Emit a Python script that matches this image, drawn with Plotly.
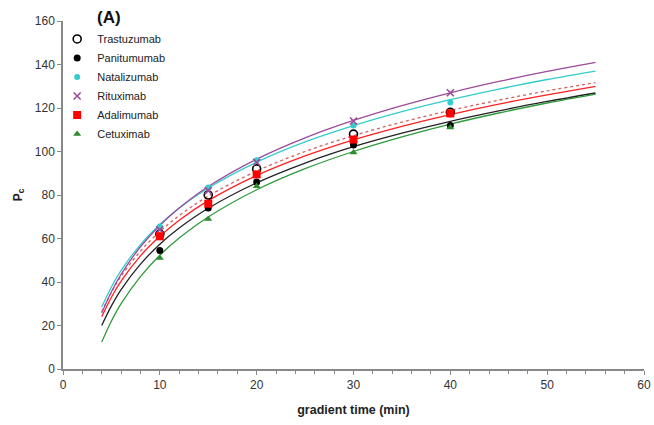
import plotly.graph_objects as go

# measured data points
x_pts = [10, 15, 20, 30, 40]
trastuzumab = [62, 80, 92, 108, 118]
panitumumab = [54.5, 74, 86, 103, 112]
natalizumab = [65.5, 83.5, 96, 112, 122.5]
rituximab = [64, 82, 95, 114, 127]
adalimumab = [61, 76, 89.5, 105.5, 117.5]
cetuximab = [51, 69, 84, 99.5, 111]

# fitted curves
x_fit = [4, 5, 6, 8, 10, 12, 15, 20, 25, 30, 35, 40, 45, 50, 55]
fit_trastuzumab = [26.3, 35.3, 42.6, 54.2, 63.2, 70.5, 79.5, 91.0, 100.0, 107.3, 113.5, 118.9, 123.6, 127.9, 131.7]
fit_panitumumab = [20.0, 29.0, 36.5, 48.2, 57.4, 64.8, 73.9, 85.6, 94.7, 102.2, 108.4, 113.9, 118.7, 123.0, 126.9]
fit_natalizumab = [28.5, 37.7, 45.3, 57.2, 66.4, 74.0, 83.2, 95.1, 104.4, 111.9, 118.3, 123.8, 128.7, 133.1, 137.0]
fit_rituximab = [25.7, 35.5, 43.5, 56.2, 66.0, 74.0, 83.9, 96.5, 106.3, 114.3, 121.1, 127.0, 132.2, 136.8, 141.0]
fit_adalimumab = [24.0, 33.0, 40.4, 52.0, 61.0, 68.4, 77.4, 89.0, 98.0, 105.4, 111.6, 117.0, 121.8, 126.0, 129.9]
fit_cetuximab = [12.4, 22.1, 30.1, 42.5, 52.3, 60.2, 69.9, 82.4, 92.1, 100.0, 106.7, 112.6, 117.7, 122.3, 126.4]

names = ["Trastuzumab", "Panitumumab", "Natalizumab", "Rituximab", "Adalimumab", "Cetuximab"]
pts = [trastuzumab, panitumumab, natalizumab, rituximab, adalimumab, cetuximab]
fits = [fit_trastuzumab, fit_panitumumab, fit_natalizumab, fit_rituximab, fit_adalimumab, fit_cetuximab]
line_colors = ["#d06060", "#222222", "#33cccc", "#9c4a9c", "#ff2020", "#2e9a3a"]
line_dash = ["dot", "solid", "solid", "solid", "solid", "solid"]
markers = [
    dict(symbol="circle-open", color="black", size=8, line=dict(width=1.6, color="black")),
    dict(symbol="circle", color="black", size=7),
    dict(symbol="circle", color="#33cccc", size=6),
    dict(symbol="x-thin-open", color="#9c4a9c", size=7, line=dict(width=1.6, color="#9c4a9c")),
    dict(symbol="square", color="#ff0000", size=8),
    dict(symbol="triangle-up", color="#2e8b2e", size=7),
]

fig = go.Figure()
for n, f, c, d in zip(names, fits, line_colors, line_dash):
    fig.add_trace(go.Scatter(x=x_fit, y=f, mode="lines", line=dict(color=c, width=1.3, dash=d, shape="spline"),
                             showlegend=False, hoverinfo="skip"))
for n, p, m in zip(names, pts, markers):
    fig.add_trace(go.Scatter(x=x_pts, y=p, mode="markers", name=n, marker=m))

fam = "Liberation Sans, Arial"
axis_font = dict(family=fam, size=12, color="#333333")
fig.update_layout(
    width=654, height=425,
    margin=dict(l=63, r=10, t=21, b=56),
    paper_bgcolor="white", plot_bgcolor="white",
    font=axis_font,
    legend=dict(x=-0.01, y=0.99, xanchor="left", yanchor="top", bgcolor="rgba(0,0,0,0)",
                font=dict(family=fam, size=11, color="#222222"),
                itemwidth=30, tracegroupgap=0),
    xaxis=dict(range=[0, 60], tickvals=[0, 10, 20, 30, 40, 50, 60], showgrid=False, zeroline=False,
               automargin=False,
               showline=True, linecolor="#888888", linewidth=1.5, ticks="outside", ticklen=4,
               tickcolor="#888888", tickfont=axis_font,
               minor=dict(dtick=2, ticks="outside", ticklen=3, tickcolor="#888888"),
               title=dict(text="<b>gradient time (min)</b>", font=dict(family=fam, size=12.5, color="#222222"), standoff=14)),
    yaxis=dict(range=[0, 160], dtick=20, showgrid=False, zeroline=False,
               automargin=False,
               showline=True, linecolor="#888888", linewidth=1.5, ticks="outside", ticklen=4,
               tickcolor="#888888", tickfont=axis_font,
               title=dict(text="<b>P<sub>c</sub></b>", font=dict(family=fam, size=12, color="#222222"), standoff=10)),
    annotations=[dict(text="<b>(A)</b>", xref="paper", yref="paper", x=0.055, y=1.009, xanchor="left", yanchor="middle",
                      showarrow=False, font=dict(family=fam, size=17, color="#111111"))],
)
fig.write_html("out.html")
